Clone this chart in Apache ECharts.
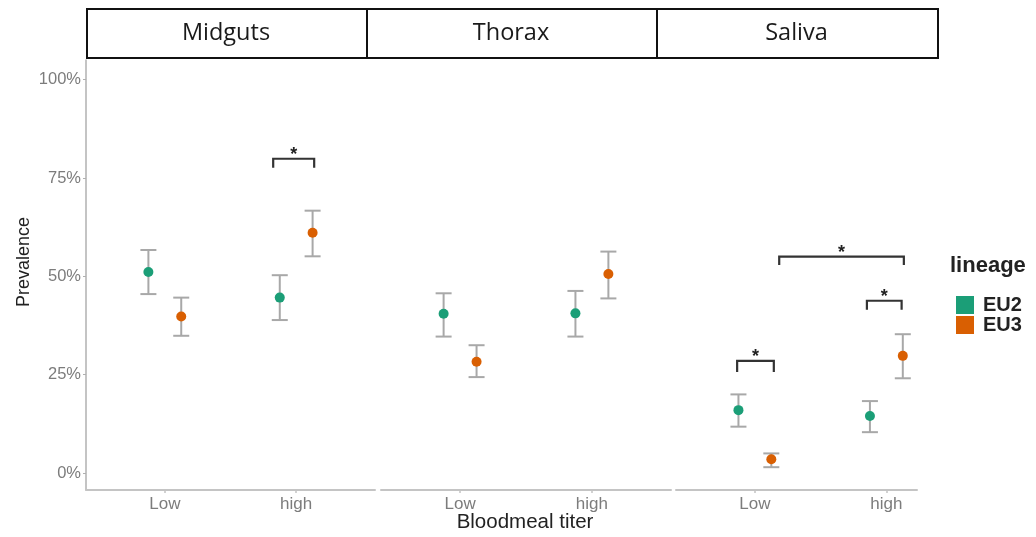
<!DOCTYPE html>
<html>
<head>
<meta charset="utf-8">
<script src="https://cdn.jsdelivr.net/npm/echarts@6/dist/echarts.min.js"></script>
<style>
  html, body { margin: 0; padding: 0; background: #ffffff; }
  #main { width: 1036px; height: 537px; }
</style>
</head>
<body>
<div id="main"></div>
<script>
// Facets, x categories and lineages
const tissues = ['Midguts', 'Thorax', 'Saliva'];
const titers = ['Low', 'high'];
const lineages = ['EU2', 'EU3'];

// Prevalence (%) per tissue: [Low, high]
const eu2Prev  = [[51.1, 44.6], [40.5, 40.6], [16.0, 14.5]];
const eu2Lower = [[45.5, 38.9], [34.7, 34.7], [11.8, 10.4]];
const eu2Upper = [[56.7, 50.3], [45.7, 46.3], [20.0, 18.3]];

const eu3Prev  = [[39.8, 61.1], [28.3, 50.6], [3.5, 29.8]];
const eu3Lower = [[34.9, 55.1], [24.4, 44.4], [1.5, 24.1]];
const eu3Upper = [[44.6, 66.7], [32.5, 56.3], [5.0, 35.3]];

// Y tick values (%)
const yTicks = [0, 25, 50, 75, 100];

// Significance brackets: tissue index, x from/to (axis units), bar height, leg end
const sigTissue = [0, 2, 2, 2];
const sigFrom   = [1.825, 0.865, 1.852, 1.185];
const sigTo     = [2.137, 1.144, 2.116, 2.133];
const sigTop    = [79.9, 28.5, 43.8, 55.0];
const sigLeg    = [77.6, 25.7, 41.5, 52.9];
const sigLabel  = ['*', '*', '*', '*'];

const colors = { EU2: '#1b9e77', EU3: '#d95f02' };
const prevByLineage  = [eu2Prev, eu3Prev];
const lowerByLineage = [eu2Lower, eu3Lower];
const upperByLineage = [eu2Upper, eu3Upper];
const dodge = [-0.125, 0.125];

const panels = [
  { left: 86,  width: 289, xMax: 2.6 },
  { left: 381, width: 290, xMax: 2.6 },
  { left: 676, width: 241, xMax: 2.233 }
];
const gridTop = 60, gridHeight = 430;
const axisGray = '#c4c4c4';
const labelGray = '#7c7c7c';

const chart = echarts.init(document.getElementById('main'));

const grid = panels.map(p => ({ left: p.left, width: p.width, top: gridTop, height: gridHeight }));

const xAxis = panels.map((p, i) => ({
  type: 'value', gridIndex: i, min: 0.4, max: p.xMax,
  axisLine: { show: true, onZero: false, lineStyle: { color: axisGray, width: 2 } },
  axisTick: { show: true, customValues: [1, 2], length: 3, lineStyle: { color: axisGray, width: 1.5 } },
  axisLabel: {
    customValues: [1, 2], formatter: v => titers[Math.round(v) - 1],
    color: labelGray, fontSize: 17, fontFamily: 'Liberation Sans', margin: 6
  },
  splitLine: { show: false }
}));

const yAxis = panels.map((p, i) => ({
  type: 'value', gridIndex: i, min: -4.3, max: 105,
  axisLine: { show: i === 0, lineStyle: { color: '#b0b0b0', width: 1.5 } },
  axisTick: { show: i === 0, customValues: yTicks, length: 3, lineStyle: { color: '#b0b0b0' } },
  axisLabel: {
    show: i === 0, customValues: yTicks, formatter: '{value}%',
    color: labelGray, fontSize: 16.5, fontFamily: 'Liberation Sans', margin: 5
  },
  splitLine: { show: false }
}));

function renderErrorBar(params, api) {
  const x = api.value(0);
  const lo = api.coord([x, api.value(1)]);
  const hi = api.coord([x, api.value(2)]);
  const cap = 8;
  const style = { stroke: '#a8a8a8', lineWidth: 2 };
  return {
    type: 'group',
    children: [
      { type: 'line', shape: { x1: lo[0], y1: lo[1], x2: hi[0], y2: hi[1] }, style },
      { type: 'line', shape: { x1: lo[0] - cap, y1: lo[1], x2: lo[0] + cap, y2: lo[1] }, style },
      { type: 'line', shape: { x1: hi[0] - cap, y1: hi[1], x2: hi[0] + cap, y2: hi[1] }, style }
    ]
  };
}

function renderBracket(params, api) {
  const x1 = api.value(0), x2 = api.value(1), top = api.value(2), leg = api.value(3);
  const a = api.coord([x1, leg]), b = api.coord([x1, top]);
  const c = api.coord([x2, top]), d = api.coord([x2, leg]);
  return {
    type: 'group',
    children: [
      { type: 'polyline', shape: { points: [a, b, c, d] },
        style: { stroke: '#333333', lineWidth: 2.2, fill: null } },
      { type: 'text', x: (b[0] + c[0]) / 2, y: b[1] - 4,
        style: { text: sigLabel[params.dataIndex] || '*', fontSize: 18, fontWeight: 'bold',
                 fontFamily: 'Liberation Sans', fill: '#222222',
                 align: 'center', verticalAlign: 'middle' } }
    ]
  };
}

const series = [];
panels.forEach((p, pi) => {
  lineages.forEach((lin, li) => {
    series.push({
      name: lin + ' interval', type: 'custom', xAxisIndex: pi, yAxisIndex: pi,
      renderItem: renderErrorBar, z: 2,
      encode: { x: 0, y: [1, 2] },
      data: titers.map((t, ti) => [ti + 1 + dodge[li], lowerByLineage[li][pi][ti], upperByLineage[li][pi][ti]])
    });
  });
  lineages.forEach((lin, li) => {
    series.push({
      name: lin, type: 'scatter', xAxisIndex: pi, yAxisIndex: pi, z: 3,
      symbol: 'circle', symbolSize: 10,
      itemStyle: { color: colors[lin], opacity: 1 },
      data: titers.map((t, ti) => [ti + 1 + dodge[li], prevByLineage[li][pi][ti]])
    });
  });
  const bracketData = [];
  sigTissue.forEach((t, k) => {
    if (t === pi) bracketData.push([sigFrom[k], sigTo[k], sigTop[k], sigLeg[k]]);
  });
  if (bracketData.length) {
    series.push({
      name: 'significance', type: 'custom', xAxisIndex: pi, yAxisIndex: pi, z: 4,
      renderItem: renderBracket, encode: { x: [0, 1], y: [2, 3] },
      data: bracketData
    });
  }
});

// Facet strips
const stripEdges = [86, 366, 656, 937];
const graphic = [];
tissues.forEach((name, i) => {
  graphic.push({
    type: 'rect', left: stripEdges[i], top: 8,
    shape: { width: stripEdges[i + 1] - stripEdges[i], height: 49 },
    style: { fill: '#ffffff', stroke: '#111111', lineWidth: 2 }, z: 10
  });
});
tissues.forEach((name, i) => {
  graphic.push({
    type: 'text', x: (stripEdges[i] + stripEdges[i + 1]) / 2, y: 33, z: 11,
    style: { text: name, fontSize: 23.5, fontFamily: 'Open Sans', fill: '#1a1a1a',
             align: 'center', verticalAlign: 'middle' }
  });
});
// Axis titles
graphic.push({
  type: 'text', x: 24, y: 262, rotation: Math.PI / 2,
  style: { text: 'Prevalence', fontSize: 18, fontFamily: 'Liberation Sans', fill: '#222222',
           align: 'center', verticalAlign: 'middle' }
});
graphic.push({
  type: 'text', x: 525, y: 522,
  style: { text: 'Bloodmeal titer', fontSize: 20.5, fontFamily: 'Liberation Sans', fill: '#222222',
           align: 'center', verticalAlign: 'middle' }
});
// Legend title
graphic.push({
  type: 'text', x: 950, y: 266,
  style: { text: 'lineage', fontSize: 22, fontWeight: 'bold', fontFamily: 'Liberation Sans',
           fill: '#222222', align: 'left', verticalAlign: 'middle' }
});

chart.setOption({
  animation: false,
  backgroundColor: '#ffffff',
  grid, xAxis, yAxis, series, graphic,
  legend: {
    data: lineages.map(l => ({ name: l, icon: 'rect' })),
    orient: 'vertical', left: 951, top: 290,
    itemWidth: 18, itemHeight: 18, itemGap: 0,
    textStyle: { fontSize: 20, fontWeight: 'bold', fontFamily: 'Liberation Sans', color: '#222222', padding: [0, 0, 0, 4] },
    selectedMode: false
  }
});
</script>
</body>
</html>
